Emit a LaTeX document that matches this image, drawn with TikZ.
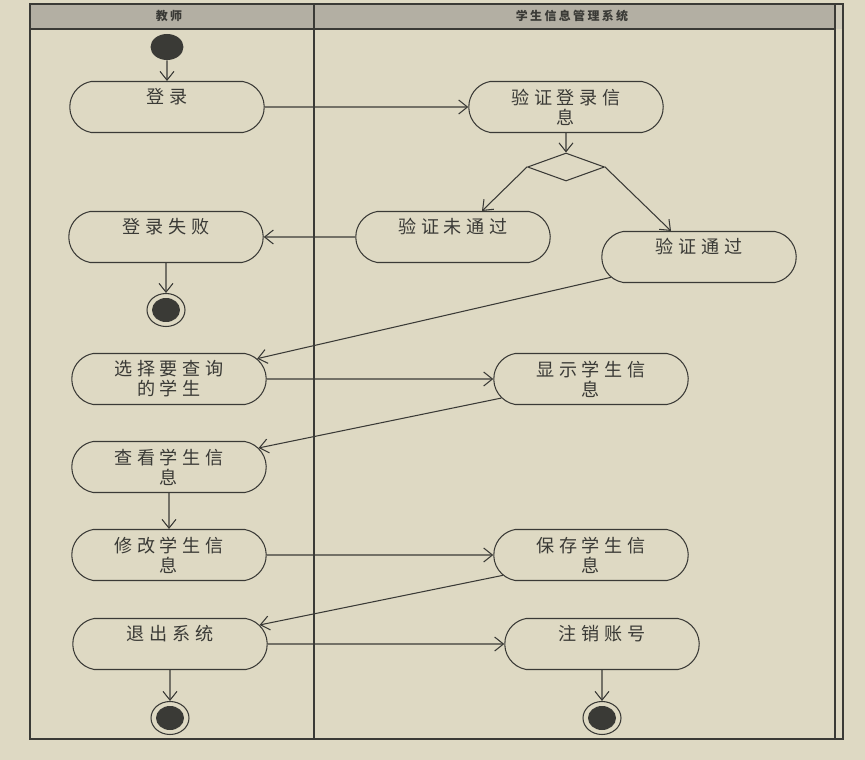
\documentclass[tikz,border=0pt]{standalone}
\usepackage{fontspec}
\usepackage{tikz}
\usetikzlibrary{arrows.meta,calc,shapes.misc,shapes.geometric}
\newfontfamily\cjk{Noto Sans CJK SC}[LetterSpace=26]
\newfontfamily\cjkhead{Noto Sans CJK SC}[LetterSpace=20]
\definecolor{paper}{HTML}{DED9C3}
\definecolor{ink}{HTML}{3A3A36}
\definecolor{band}{HTML}{B3AFA3}
\definecolor{bandlite}{HTML}{CFCBBB}

\begin{document}
\begin{tikzpicture}[x=0.02cm,y=-0.02cm,
  a/.style={draw=ink,line width=0.6pt,rounded rectangle,rounded rectangle arc length=160,minimum width=3.96cm,minimum height=1.02cm,inner sep=1pt,align=center,text=ink,font=\cjk\fontsize{10.3}{11.4}\selectfont},
  one/.style={text depth=12.6pt},
  d/.style={draw=ink,line width=0.6pt,diamond,minimum width=1.54cm,minimum height=0.56cm,inner sep=0pt},
  s/.style={fill=ink,ellipse,minimum width=0.66cm,minimum height=0.52cm,inner sep=0pt},
  f/.style={draw=ink,line width=0.6pt,ellipse,minimum width=0.76cm,minimum height=0.66cm,inner sep=0pt,path picture={\fill[ink] (path picture bounding box.center) ellipse (0.28cm and 0.24cm);}},
  hd/.style={text=ink,font=\cjkhead\bfseries\fontsize{6.8}{8}\selectfont},
  lk/.style={draw=ink,line width=0.6pt,-{Straight Barb[length=5pt,width=8pt]}}]
  \fill[paper] (0,0) rectangle (865,760);
  \useasboundingbox (0,0) rectangle (865,760);
  % swimlanes
  \fill[band] (30,4) rectangle (835,29);
  \fill[bandlite] (835,4) rectangle (843,29);
  \draw[ink,line width=0.9pt] (30,4) rectangle (843,739);
  \draw[ink,line width=0.9pt] (835,4) -- (835,739);
  \draw[ink,line width=0.9pt] (314,4) -- (314,739);
  \draw[ink,line width=1.7pt] (30,29) -- (835,29);
  \node[hd] (h1) at (169,16) {教师};
  \node[hd] (h2) at (572,16) {学生信息管理系统};
  % activities
  \node[s] (st) at (167,47) {};
  \node[a,one] (login) at (167,107) {登录};
  \node[a] (check) at (566,107) {验证登录信\\息};
  \node[d] (dec) at (566,167) {};
  \node[a,one] (nopass) at (453,237) {验证未通过};
  \node[a,one] (lfail) at (166,237) {登录失败};
  \node[a,one] (pass) at (699,257) {验证通过};
  \node[f] (e1) at (166,310) {};
  \node[a] (pick) at (169,379) {选择要查询\\的学生};
  \node[a] (show) at (591,379) {显示学生信\\息};
  \node[a] (view) at (169,467) {查看学生信\\息};
  \node[a] (edit) at (169,555) {修改学生信\\息};
  \node[a] (save) at (591,555) {保存学生信\\息};
  \node[a,one] (quit) at (170,644) {退出系统};
  \node[a,one] (logout) at (602,644) {注销账号};
  \node[f] (e2) at (170,718) {};
  \node[f] (e3) at (602,718) {};
  % flows
  \draw[lk] (st) -- (login);
  \draw[lk] (login) -- (check);
  \draw[lk] (check) -- (dec);
  \draw[lk] (dec.west) -- ($(nopass.north)+(29,0)$);
  \draw[lk] (dec.east) -- ($(pass.north)+(-28,0)$);
  \draw[lk] (nopass) -- (lfail);
  \draw[lk] (lfail) -- (e1);
  \draw[lk] (pass.193) -- (pick.13);
  \draw[lk] (pick) -- (show);
  \draw[lk] (show.192) -- (view.12);
  \draw[lk] (view) -- (edit);
  \draw[lk] (edit) -- (save);
  \draw[lk] (save.193) -- (quit.12);
  \draw[lk] (quit) -- (logout);
  \draw[lk] (quit) -- (e2);
  \draw[lk] (logout) -- (e3);
\end{tikzpicture}
\end{document}
